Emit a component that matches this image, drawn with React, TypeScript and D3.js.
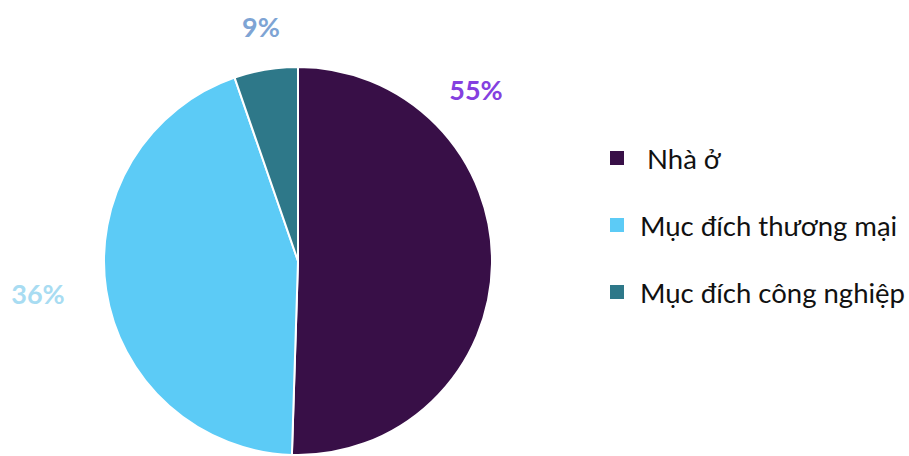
import React from "react";
import * as d3 from "d3";

const categories = ["Nhà ở", "Mục đích thương mại", "Mục đích công nghiệp"];
const shares = [50.5, 44.2, 5.3];
const pctLabels = ["55%", "36%", "9%"];
const sliceColors = ["#380f47", "#5ccbf6", "#2e7889"];
const labelColors = ["#8440e0", "#a8dcf2", "#7ea4d4"];
const labelPos: [number, number][] = [[476, 100], [38, 304], [261, 37]];

export default function App() {
  const W = 909, H = 456;
  const cx = 298, cy = 261, r = 194;
  const pie = d3.pie<number>().sort(null).value((d) => d);
  const arcs = pie(shares);
  const arc = d3.arc<d3.PieArcDatum<number>>().innerRadius(0).outerRadius(r);
  const font = "Lato, 'Open Sans', sans-serif";
  return (
    <svg width={W} height={H} style={{ position: "absolute", left: 0, top: 0 }}>
      <rect width={W} height={H} fill="#fff" />
      <g transform={`translate(${cx},${cy})`}>
        {arcs.map((a, i) => (
          <path key={i} d={arc(a) || ""} fill={sliceColors[i]} stroke="#fff" strokeWidth={2} />
        ))}
      </g>
      {pctLabels.map((t, i) => (
        <text key={i} x={labelPos[i][0]} y={labelPos[i][1]} textAnchor="middle" fontFamily={font} fontWeight={700} fontSize={27} fill={labelColors[i]}>
          {t}
        </text>
      ))}
      {categories.map((c, i) => (
        <g key={c} transform={`translate(610,${151 + i * 67})`}>
          <rect width={14} height={14} fill={sliceColors[i]} />
          <text x={i === 0 ? 37 : 30} y={18} fontFamily={font} fontSize={27.5} fill="#111">
            {c}
          </text>
        </g>
      ))}
    </svg>
  );
}
